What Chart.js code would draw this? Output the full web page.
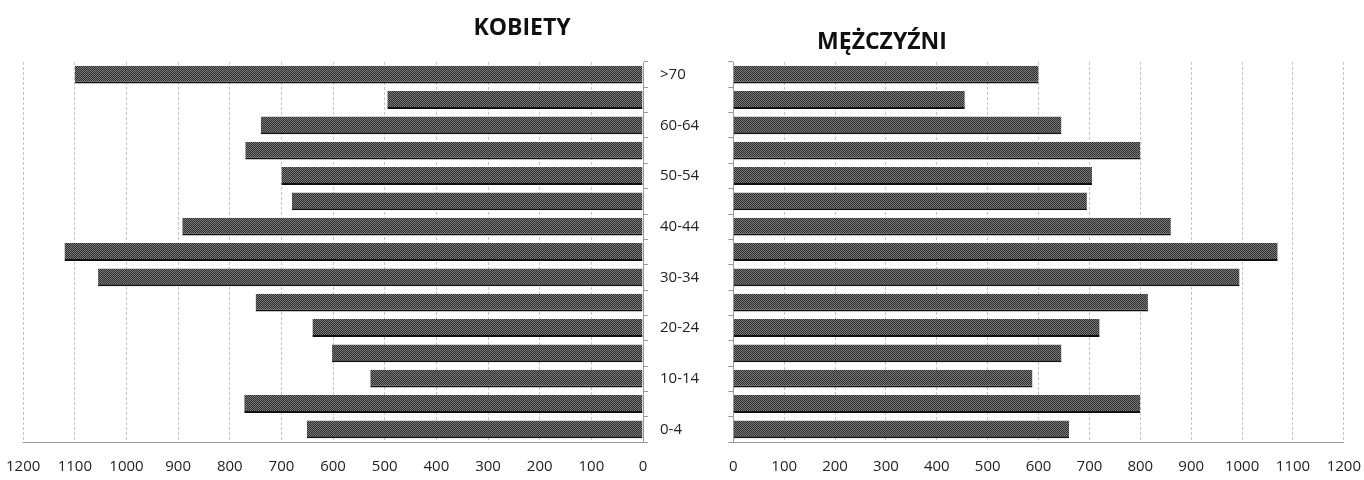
<!DOCTYPE html>
<html><head><meta charset="utf-8">
<script src="https://cdn.jsdelivr.net/npm/chart.js@4"></script>
<style>
html,body{margin:0;padding:0;background:#fff;width:1364px;height:480px;overflow:hidden;font-family:"Open Sans",sans-serif}
#wl{position:absolute;left:-10px;top:0;width:735px;height:480px}
#wr{position:absolute;left:713px;top:0;width:664px;height:480px}
.t{position:absolute;font-weight:bold;font-size:23px;color:#111;font-family:"Open Sans",sans-serif;transform:translateX(-50%);white-space:nowrap}
</style></head><body>
<div id="wl"><canvas id="cl"></canvas></div>
<div id="wr"><canvas id="cr"></canvas></div>
<div class="t" style="left:522px;top:10px">KOBIETY</div>
<div class="t" style="left:882px;top:24px">MĘŻCZYŹNI</div>
<script>
const ageGroups = ['0-4','5-9','10-14','15-19','20-24','25-29','30-34','35-39','40-44','45-49','50-54','55-59','60-64','65-69','>70'];
const women = [651, 772, 528, 602, 640, 750, 1055, 1120, 892, 680, 700, 770, 740, 495, 1100];
const men   = [660, 800, 588, 645, 720, 815, 995, 1070, 860, 695, 705, 800, 645, 455, 600];
const axisMax = 1200;
const axisStep = 100;

function makePattern(){
  const c = document.createElement('canvas'); c.width = 2; c.height = 2;
  const g = c.getContext('2d');
  g.fillStyle = '#2e2e2e'; g.fillRect(0,0,2,2);
  g.fillStyle = '#7a7a7a'; g.fillRect(0,0,1,1); g.fillRect(1,1,1,1);
  return g.createPattern(c,'repeat');
}
const pat = makePattern();
const tickFont = {family:'"Open Sans", sans-serif', size:15};
const gridCfg = {color:'#c4c4c4', borderDash:[2,3], drawTicks:false};

function baseOpts(reverse, showLabels){
  return {
    indexAxis:'y', responsive:true, maintainAspectRatio:false, animation:false,
    plugins:{legend:{display:false}, tooltip:{enabled:false}},
    layout:{padding:{top:62,left:0,right:0,bottom:0}},
    scales:{
      x:{reverse:reverse, min:0, max:axisMax,
         ticks:{stepSize:axisStep, color:'#222', font:tickFont, padding:16, maxRotation:0,
                callback:function(v){ return String(v); }},
         grid:gridCfg,
         border:{display:true, color:'#999', dash:[3,2]},
         afterFit:function(s){ s.height = 38; }},
      y:{reverse:true, position: reverse ? 'right' : 'left',
         ticks:{display:showLabels, color:'#222', font:tickFont, padding:12, autoSkip:false,
                callback:function(v,i){ return i%2===0 ? ageGroups[i] : ''; }},
         grid:{drawOnChartArea:false, color:'#999', tickLength:5, offset:true},
         border:{display:true, color:'#999', dash:[2,3]},
         afterFit:function(s){ s.width = showLabels ? 82 : 2; }}
    }
  };
}
function ds(vals){
  return [{data:vals, backgroundColor:pat, borderColor:'#111',
           borderWidth:{top:0,left:0,right:0,bottom:2}, borderSkipped:false,
           categoryPercentage:0.74, barPercentage:0.95}];
}
new Chart(document.getElementById('cl'), {type:'bar', data:{labels:ageGroups, datasets:ds(women)}, options:baseOpts(true,true)});
new Chart(document.getElementById('cr'), {type:'bar', data:{labels:ageGroups, datasets:ds(men)}, options:baseOpts(false,false)});
</script>
</body></html>
